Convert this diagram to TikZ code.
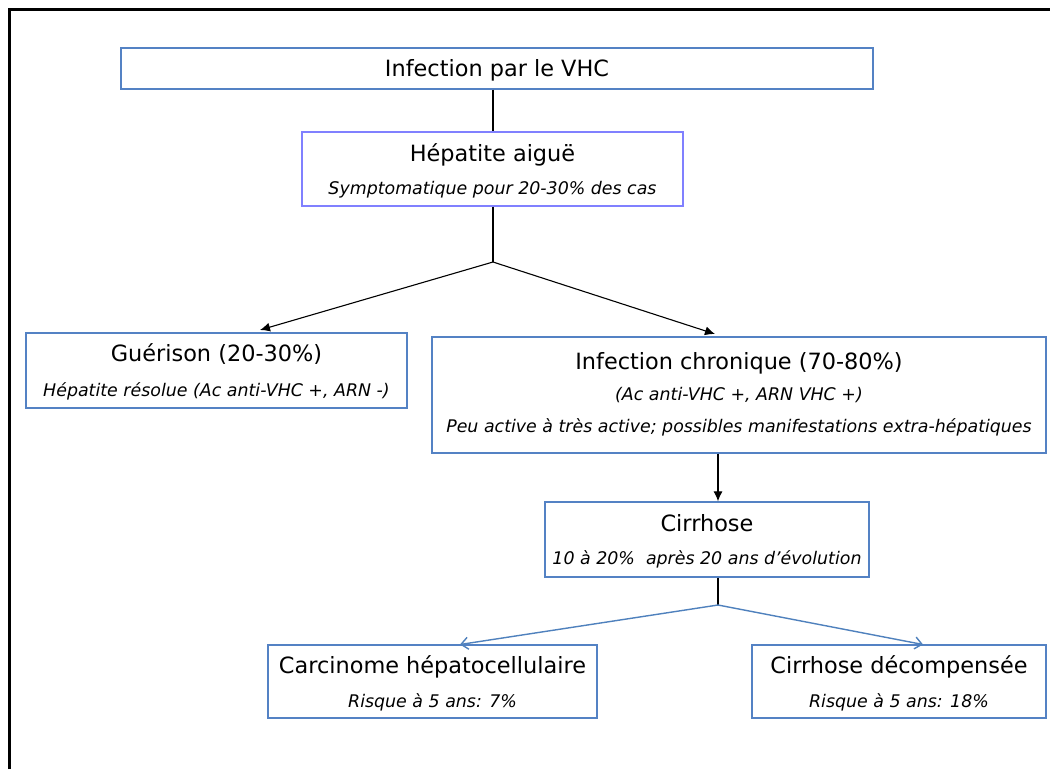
\documentclass[tikz,border=0pt]{standalone}
\usepackage{fontspec}
\setmainfont{DejaVu Sans}
\usetikzlibrary{arrows.meta}
\definecolor{boxblue}{RGB}{84,130,196}
\definecolor{boxviolet}{RGB}{128,128,255}
\definecolor{lineblue}{RGB}{79,129,189}
\tikzset{
  box/.style={draw=boxblue, line width=1.3pt, rectangle, inner sep=0pt},
  vbox/.style={draw=boxviolet, line width=1.3pt, rectangle, inner sep=0pt},
  ttl/.style={inner sep=0pt, font=\fontsize{22.4}{26}\selectfont, text height=16pt, text depth=4pt},
  sub/.style={inner sep=0pt, font=\fontsize{17.4}{20}\selectfont\itshape, text height=13pt, text depth=4pt},
  blk/.style={draw=black, line width=1.1pt},
  blkarr/.style={blk, -{Latex[length=10pt,width=9pt]}},
  bluearr/.style={draw=lineblue, line width=1.4pt, -{Straight Barb[length=7pt,width=12pt]}}
}
\begin{document}
\begin{tikzpicture}[x=1pt,y=-1pt]
\fill[white] (0,0) rectangle (1050,769);
\useasboundingbox (0,0) rectangle (1050,769);
% frame
\draw[line width=3pt, line join=miter] (9.5,769) -- (9.5,9.5) -- (1050,9.5);
% boxes
\node[box, minimum width=752pt, minimum height=41pt] (b1) at (497,68.5) {};
\node[vbox, minimum width=381pt, minimum height=74pt] (b2) at (492.5,169) {};
\node[box, minimum width=381pt, minimum height=75pt] (b3) at (216.5,370.5) {};
\node[box, minimum width=614pt, minimum height=116pt] (b4) at (739,395) {};
\node[box, minimum width=324pt, minimum height=75pt] (b5) at (707,539.5) {};
\node[box, minimum width=329pt, minimum height=73pt] (b6) at (432.5,681.5) {};
\node[box, minimum width=294pt, minimum height=73pt] (b7) at (899,681.5) {};
% texts
\node[ttl] (t1) at (497,70) {Infection par le VHC};
\node[ttl] (t2) at (492.5,155) {Hépatite aiguë};
\node[sub] (s2) at (492.5,190) {Symptomatique pour 20-30\% des cas};
\node[ttl] (t3) at (216.5,355) {Guérison (20-30\%)};
\node[sub] (s3) at (216.5,392) {Hépatite résolue (Ac anti-VHC +, ARN -)};
\node[ttl] (t4) at (739,363) {Infection chronique (70-80\%)};
\node[sub] (s4a) at (739,396) {(Ac anti-VHC +, ARN VHC +)};
\node[sub] (s4b) at (739,428) {Peu active à très active; possibles manifestations extra-hépatiques};
\node[ttl] (t5) at (707,525) {Cirrhose};
\node[sub] (s5) at (707,560) {10 à 20\%\ \ après 20 ans d'évolution};
\node[ttl] (t6) at (432.5,667) {Carcinome hépatocellulaire};
\node[sub] (s6) at (432.5,703) {Risque à 5 ans: 7\%};
\node[ttl] (t7) at (899,667) {Cirrhose décompensée};
\node[sub] (s7) at (899,703) {Risque à 5 ans: 18\%};
% connectors
\coordinate (j1) at (493,262);
\coordinate (a3) at (260,330);
\coordinate (a4) at (715,334);
\coordinate (j2) at (718,605);
\coordinate (a6) at (460,644.5);
\coordinate (a7) at (923,644.5);
\draw[blk] (b1.south -| j1) -- (b2.north -| j1);
\draw[blk] (b2.south -| j1) -- (j1);
\draw[blkarr] (j1) -- (a3);
\draw[blkarr] (j1) -- (a4);
\draw[blkarr] (b4.south -| j2) -- (b5.north -| j2);
\draw[blk] (b5.south -| j2) -- (j2);
\draw[bluearr] (j2) -- (a6);
\draw[bluearr] (j2) -- (a7);
\end{tikzpicture}
\end{document}
